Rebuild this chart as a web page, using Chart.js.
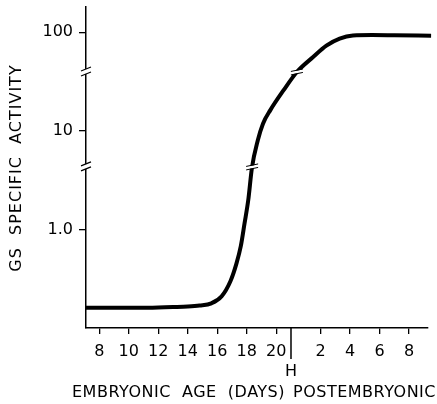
<!DOCTYPE html>
<html>
<head>
<meta charset="utf-8">
<script src="https://cdn.jsdelivr.net/npm/chart.js@4"></script>
<style>
  html, body { margin: 0; padding: 0; background: #fff; }
  canvas { display: block; }
</style>
</head>
<body>
<canvas id="gs-chart" width="437" height="404"></canvas>
<script>
// Curve: age in days (hatching = day 21) vs GS activity
const ageDays = [7.1, 9, 11, 13, 14, 14.8, 15.6, 16.3, 16.9, 17.3, 17.6, 17.85, 18.1, 18.35, 18.75, 19.1, 19.6, 20.5, 21.4, 22.5, 23.4, 24.3, 25.2, 26.5, 28, 30.5];
const gsActivity = [0.16, 0.16, 0.16, 0.163, 0.165, 0.169, 0.178, 0.21, 0.30, 0.45, 0.68, 1.15, 1.97, 4.2, 8.0, 11.8, 16.2, 25.8, 39.5, 56, 73, 86, 92.5, 93.5, 93, 92];

// Axis ticks
const xTickDays = [8, 10, 12, 14, 16, 18, 20, 23, 25, 27, 29];
const xTickLabels = ['8', '10', '12', '14', '16', '18', '20', '2', '4', '6', '8'];
const hatchDay = 21;
const yTickValues = [1, 10, 100];
const yTickLabels = ['1.0', '10', '100'];
const yBreakValues = [4.3, 39.5];

const FONT = 'DejaVu Sans';
Chart.defaults.font.family = FONT;
Chart.defaults.color = '#000';

// Break marks, hatching line and axis titles
const annotations = {
  id: 'annotations',
  afterDraw(chart) {
    const ctx = chart.ctx;
    const xs = chart.scales.x;
    const ys = chart.scales.y;
    const area = chart.chartArea;
    const pts = chart.getDatasetMeta(0).data;

    ctx.save();
    ctx.lineCap = 'butt';

    yBreakValues.forEach(v => {
      const y = ys.getPixelForValue(v);
      // axis break
      const x0 = area.left;
      ctx.fillStyle = '#fff';
      ctx.fillRect(x0 - 2, y - 3, 4, 5);
      ctx.strokeStyle = '#000';
      ctx.lineWidth = 1.2;
      ctx.beginPath();
      ctx.moveTo(x0 - 5, y - 1); ctx.lineTo(x0 + 5, y - 5);
      ctx.moveTo(x0 - 5, y + 4); ctx.lineTo(x0 + 5, y);
      ctx.stroke();

      // curve break: find where the line crosses this level
      for (let i = 1; i < pts.length; i++) {
        const a = pts[i - 1], b = pts[i];
        if ((a.y - y) * (b.y - y) <= 0 && a.y !== b.y) {
          const t = (y - a.y) / (b.y - a.y);
          const px = a.x + t * (b.x - a.x);
          ctx.strokeStyle = '#fff';
          ctx.lineWidth = 2.5;
          ctx.beginPath();
          ctx.moveTo(px - 7, y + 1.5); ctx.lineTo(px + 7, y - 1.5);
          ctx.stroke();
          ctx.strokeStyle = '#000';
          ctx.lineWidth = 1;
          ctx.beginPath();
          ctx.moveTo(px - 6, y + 3); ctx.lineTo(px + 6, y + 0.5);
          ctx.moveTo(px - 6, y - 0.5); ctx.lineTo(px + 6, y - 3);
          ctx.stroke();
          break;
        }
      }
    });

    // hatching mark
    const hx = xs.getPixelForValue(hatchDay);
    ctx.strokeStyle = '#000';
    ctx.lineWidth = 1.5;
    ctx.beginPath();
    ctx.moveTo(hx, area.bottom);
    ctx.lineTo(hx, area.bottom + 31);
    ctx.stroke();

    ctx.fillStyle = '#000';
    ctx.font = '16px "' + FONT + '"';
    ctx.textAlign = 'center';
    ctx.textBaseline = 'middle';
    ctx.fillText('H', hx, 372);

    // x title
    ctx.letterSpacing = '0.5px';
    ctx.textAlign = 'left';
    ctx.fillText('EMBRYONIC  AGE  (DAYS)', 72, 393);
    ctx.textAlign = 'right';
    ctx.fillText('POSTEMBRYONIC', 436, 393);

    // y title
    ctx.letterSpacing = '1px';
    ctx.translate(17, 168);
    ctx.rotate(-Math.PI / 2);
    ctx.textAlign = 'center';
    ctx.fillText('GS  SPECIFIC  ACTIVITY', 0, 0);
    ctx.restore();
  }
};

new Chart(document.getElementById('gs-chart'), {
  type: 'line',
  data: {
    datasets: [{
      data: ageDays.map((d, i) => ({ x: d, y: gsActivity[i] })),
      borderColor: '#000',
      borderWidth: 4,
      pointRadius: 0,
      cubicInterpolationMode: 'monotone',
      fill: false,
      clip: false
    }]
  },
  options: {
    responsive: false,
    animation: false,
    layout: { padding: { top: 7, right: 9, left: 0, bottom: 0 } },
    plugins: {
      legend: { display: false },
      tooltip: { enabled: false }
    },
    scales: {
      x: {
        type: 'linear',
        min: 7.1,
        max: 30.29,
        afterBuildTicks: scale => { scale.ticks = xTickDays.map(v => ({ value: v })); },
        afterFit: scale => { scale.height = 76; },
        ticks: {
          autoSkip: false,
          maxRotation: 0,
          padding: 8,
          font: { size: 16 },
          color: '#000',
          callback: (value, index) => xTickLabels[index]
        },
        grid: { drawOnChartArea: false, tickLength: 6, color: '#000', lineWidth: 1.3 },
        border: { display: true, color: '#000', width: 1.5 }
      },
      y: {
        type: 'logarithmic',
        min: 0.1,
        max: 180,
        afterBuildTicks: scale => { scale.ticks = yTickValues.map(v => ({ value: v })); },
        afterFit: scale => {
          scale.width = 86;
          scale.paddingTop = 0;
          scale.paddingBottom = 0;
        },
        ticks: {
          padding: 6,
          font: { size: 16 },
          color: '#000',
          callback: (value, index) => yTickLabels[index]
        },
        grid: { drawOnChartArea: false, tickLength: 7, color: '#000', lineWidth: 1.3 },
        border: { display: true, color: '#000', width: 1.5 }
      }
    }
  },
  plugins: [annotations]
});
</script>
</body>
</html>
